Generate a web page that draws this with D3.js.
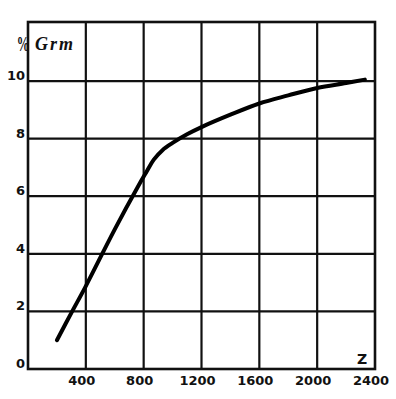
<!DOCTYPE html>
<html><head><meta charset="utf-8">
<script src="https://cdn.jsdelivr.net/npm/d3@7"></script>
<style>body{margin:0;background:#fff}svg{display:block}</style>
</head><body>
<script>
const curveZ = [200, 300, 400, 600, 760, 820, 870, 930, 1000, 1100, 1200, 1400, 1600, 1800, 2000, 2200, 2330];
const curveGrm = [1.0, 1.95, 2.88, 4.85, 6.33, 6.85, 7.27, 7.6, 7.85, 8.15, 8.4, 8.83, 9.22, 9.5, 9.76, 9.93, 10.05];
const xTicks = [400, 800, 1200, 1600, 2000, 2400];
const xTickLabels = ["400", "800", "1200", "1600", "2000", "2400"];
const yTicks = [0, 2, 4, 6, 8, 10];
const yTickLabels = ["0", "2", "4", "6", "8", "10"];

const W = 396, H = 399;
const svg = d3.select("body").append("svg").attr("width", W).attr("height", H);
const x = d3.scaleLinear().domain([0, 2400]).range([28, 375]);
const y = d3.scaleLinear().domain([0, 12.05]).range([369, 22]);

// grid
const g = svg.append("g").attr("stroke", "#111").attr("stroke-width", 2.2);
g.selectAll(".v").data(xTicks.slice(0, -1)).join("line")
  .attr("x1", d => x(d)).attr("x2", d => x(d)).attr("y1", y(12.05)).attr("y2", y(0));
g.selectAll(".h").data(yTicks.filter(d => d > 0)).join("line")
  .attr("y1", d => y(d)).attr("y2", d => y(d)).attr("x1", x(0)).attr("x2", x(2400));
svg.append("rect").attr("x", x(0)).attr("y", y(12.05)).attr("width", x(2400) - x(0)).attr("height", y(0) - y(12.05))
  .attr("fill", "none").attr("stroke", "#111").attr("stroke-width", 2.6);

// curve
const line = d3.line().x((d, i) => x(curveZ[i])).y(d => y(d)).curve(d3.curveCatmullRom.alpha(0.5));
svg.append("path").datum(curveGrm).attr("d", line).attr("fill", "none")
  .attr("stroke", "#000").attr("stroke-width", 4).attr("stroke-linecap", "round").attr("stroke-linejoin", "round");

// tick labels
const font = "'DejaVu Sans', sans-serif";
svg.selectAll(".xl").data(xTicks).join("text")
  .attr("x", d => x(d) - 4).attr("y", 385).attr("text-anchor", "middle")
  .attr("font-family", font).attr("font-weight", "bold").attr("font-size", 13).attr("fill", "#111")
  .text((d, i) => xTickLabels[i]);
svg.selectAll(".yl").data(yTicks).join("text")
  .attr("x", 25).attr("y", d => y(d) - 1).attr("text-anchor", "end")
  .attr("font-family", font).attr("font-weight", "bold").attr("font-size", 13).attr("fill", "#111")
  .text((d, i) => yTickLabels[i]);

// axis titles
svg.append("text").attr("transform", "translate(23,51) scale(0.6,1)").attr("text-anchor", "middle")
  .attr("font-family", "'Liberation Serif', serif").attr("font-weight", "bold").attr("font-size", 21).attr("fill", "#111").text("%");
svg.append("text").attr("x", 35).attr("y", 50)
  .attr("font-family", "'Liberation Serif', serif").attr("font-style", "italic").attr("font-weight", "bold")
  .attr("font-size", 18).attr("letter-spacing", 2).attr("fill", "#111").text("Grm");
svg.append("text").attr("x", 362).attr("y", 364).attr("text-anchor", "middle")
  .attr("font-family", font).attr("font-weight", "bold").attr("font-size", 14).attr("fill", "#111").text("Z");
</script>
</body></html>
